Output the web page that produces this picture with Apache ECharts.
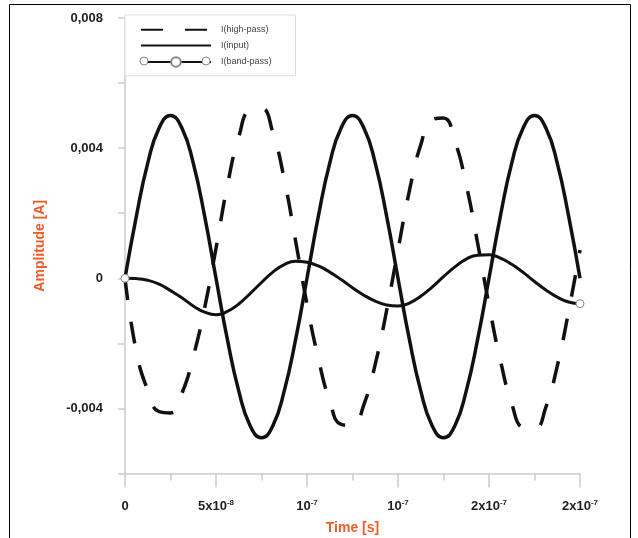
<!DOCTYPE html>
<html>
<head>
<meta charset="utf-8">
<script src="https://cdn.jsdelivr.net/npm/echarts@6/dist/echarts.min.js"></script>
<style>
html,body{margin:0;padding:0;background:#fff;}
#chart{width:638px;height:538px;}
</style>
</head>
<body>
<div id="chart"></div>
<script>
// time samples in ns (converted to seconds below)
var timeNs = [0, 6.25, 12.5, 18.75, 25, 31.25, 37.5, 43.75, 50, 56.25,
	62.5, 68.75, 75, 81.25, 87.5, 93.75, 100, 106.25, 112.5, 118.75,
	125, 131.25, 137.5, 143.75, 150, 156.25, 162.5, 168.75, 175, 181.25,
	187.5, 193.75, 200, 206.25, 212.5, 218.75, 225, 231.25, 237.5, 243.75, 250];

var iHighPass = [0, -0.00226, -0.00344, -0.0041, -0.00414, -0.00354, -0.00241, -0.00091,
	0.00092, 0.00285, 0.00434, 0.00517, 0.00522, 0.00447, 0.00304, 0.00114,
	-0.0008, -0.00247, -0.00377, -0.00449, -0.00453, -0.00388, -0.00264, -0.00099,
	0.00087, 0.00269, 0.0041, 0.00488, 0.00493, 0.00422, 0.00287, 0.00108,
	-0.00082, -0.00252, -0.00385, -0.00459, -0.00463, -0.00396, -0.0027, -0.00102,
	0.00087];

var iInput = [0, 0.00191, 0.00354, 0.00462, 0.005, 0.00462, 0.00354, 0.00191,
	0, -0.00188, -0.00346, -0.00453, -0.0049, -0.00453, -0.00346, -0.00188,
	0, 0.00191, 0.00354, 0.00462, 0.005, 0.00462, 0.00354, 0.00191,
	0, -0.00188, -0.00346, -0.00453, -0.0049, -0.00453, -0.00346, -0.00188,
	0, 0.00191, 0.00354, 0.00462, 0.005, 0.00462, 0.00354, 0.00191,
	0];

var iBandPass = [0, -0.00001, -0.00006, -0.00018, -0.00038, -0.0006, -0.00085, -0.00104,
	-0.00112, -0.00102, -0.00079, -0.00047, -0.00013, 0.00019, 0.00042, 0.00052,
	0.00049, 0.00038, 0.00019, -0.00004, -0.00029, -0.00052, -0.0007, -0.00082,
	-0.00085, -0.00076, -0.00055, -0.00027, 0.00005, 0.00035, 0.00059, 0.00071,
	0.00072, 0.00062, 0.00043, 0.00018, -0.0001, -0.00036, -0.00058, -0.00073,
	-0.00078];

// x tick labels: base + superscript exponent
var xTickBase = ['0', '5x10', '10', '10', '2x10', '2x10'];
var xTickExp = ['', '-8', '-7', '-7', '-7', '-7'];

// y tick labels
var yLabelValues = [-0.004, 0, 0.004, 0.008];
var yLabelTexts = ['-0,004', '0', '0,004', '0,008'];

var seriesNames = ['I(high-pass)', 'I(input)', 'I(band-pass)'];

function pairs(vals) {
	var out = [];
	for (var i = 0; i < timeNs.length; i++) {
		out.push([timeNs[i] * 1e-9, vals[i]]);
	}
	return out;
}

// band-pass shows its circle marker only at both ends
function bandPassData() {
	var d = pairs(iBandPass);
	return d.map(function (p, i) {
		var end = (i === 0 || i === d.length - 1);
		return {value: p, symbol: end ? 'circle' : 'none'};
	});
}

var labelColor = '#1e1e1e';
var titleColor = '#f15a29';
var axisGray = '#cccccc';
var font = 'Liberation Sans, Arial';
var ringStyle = {fill: '#fff', stroke: '#888', lineWidth: 1};

var myChart = echarts.init(document.getElementById('chart'));
var option = {
	backgroundColor: '#fff',
	animation: false,
	grid: {left: 125, right: 58, top: 18, bottom: 64.5, containLabel: false, outerBoundsMode: 'none'},
	legend: {
		orient: 'vertical',
		left: 125,
		top: 15,
		padding: [10, 24, 8, 15],
		itemGap: 6,
		itemWidth: 70,
		itemHeight: 12,
		backgroundColor: '#fff',
		borderColor: '#dddddd',
		borderWidth: 1,
		textStyle: {fontSize: 9, color: '#444', fontFamily: font, padding: [0, 0, 0, 5]},
		data: [
			{name: seriesNames[0], itemStyle: {opacity: 0}},
			{name: seriesNames[1], itemStyle: {opacity: 0}},
			{name: seriesNames[2]}
		]
	},
	xAxis: {
		type: 'value',
		min: 0,
		max: 2.5e-7,
		interval: 5e-8,
		name: 'Time [s]',
		nameLocation: 'middle',
		nameGap: 48,
		nameTextStyle: {color: titleColor, fontSize: 14, fontWeight: 'bold', fontFamily: font},
		splitLine: {show: false},
		axisLine: {onZero: false, lineStyle: {color: axisGray, width: 1.5}},
		axisTick: {length: 14, lineStyle: {color: axisGray, width: 1.5}},
		minorTick: {show: true, splitNumber: 2, length: 7, lineStyle: {color: axisGray, width: 1.5}},
		axisLabel: {
			margin: 25,
			formatter: function (v) {
				var i = Math.round(v / 5e-8);
				if (!xTickExp[i]) return '{b|' + xTickBase[i] + '}';
				return '{b|' + xTickBase[i] + '}{s|' + xTickExp[i] + '}';
			},
			rich: {
				b: {fontSize: 13, fontWeight: 'bold', color: labelColor, fontFamily: font, lineHeight: 16},
				s: {fontSize: 8, fontWeight: 'bold', color: labelColor, fontFamily: font, verticalAlign: 'top', lineHeight: 16}
			}
		}
	},
	yAxis: {
		type: 'value',
		min: -0.006,
		max: 0.008,
		interval: 0.002,
		name: 'Amplitude [A]',
		nameLocation: 'middle',
		nameGap: 78,
		nameTextStyle: {color: titleColor, fontSize: 14, fontWeight: 'bold', fontFamily: font},
		splitLine: {show: false},
		axisLine: {show: true, onZero: false, lineStyle: {color: axisGray, width: 1.5}},
		axisTick: {show: true, length: 7, lineStyle: {color: axisGray, width: 1.5}},
		axisLabel: {
			margin: 22,
			color: labelColor,
			fontSize: 13,
			fontWeight: 'bold',
			fontFamily: font,
			formatter: function (v) {
				for (var i = 0; i < yLabelValues.length; i++) {
					if (Math.abs(v - yLabelValues[i]) < 1e-9) return yLabelTexts[i];
				}
				return '';
			}
		}
	},
	series: [
		{
			name: seriesNames[0],
			type: 'line',
			smooth: true,
			showSymbol: false,
			symbol: 'none',
			lineStyle: {color: '#111', width: 3.5, type: [22, 22]},
			itemStyle: {color: '#111'},
			data: pairs(iHighPass)
		},
		{
			name: seriesNames[1],
			type: 'line',
			smooth: true,
			showSymbol: false,
			symbol: 'none',
			lineStyle: {color: '#111', width: 3.5},
			itemStyle: {color: '#111'},
			data: pairs(iInput)
		},
		{
			name: seriesNames[2],
			type: 'line',
			smooth: true,
			symbol: 'circle',
			symbolSize: 8,
			lineStyle: {color: '#111', width: 3},
			itemStyle: {color: '#fff', borderColor: '#888', borderWidth: 1},
			data: bandPassData()
		}
	],
	graphic: [
		{type: 'rect', shape: {x: 9.5, y: 4.5, width: 621, height: 545}, style: {fill: 'none', stroke: '#000', lineWidth: 1}, silent: true},
		// extra rings on the band-pass legend icon
		{type: 'circle', shape: {cx: 144, cy: 61, r: 4}, style: ringStyle, z: 100, silent: true},
		{type: 'circle', shape: {cx: 206, cy: 61, r: 4}, style: ringStyle, z: 100, silent: true}
	]
};
myChart.setOption(option);
</script>
</body>
</html>
